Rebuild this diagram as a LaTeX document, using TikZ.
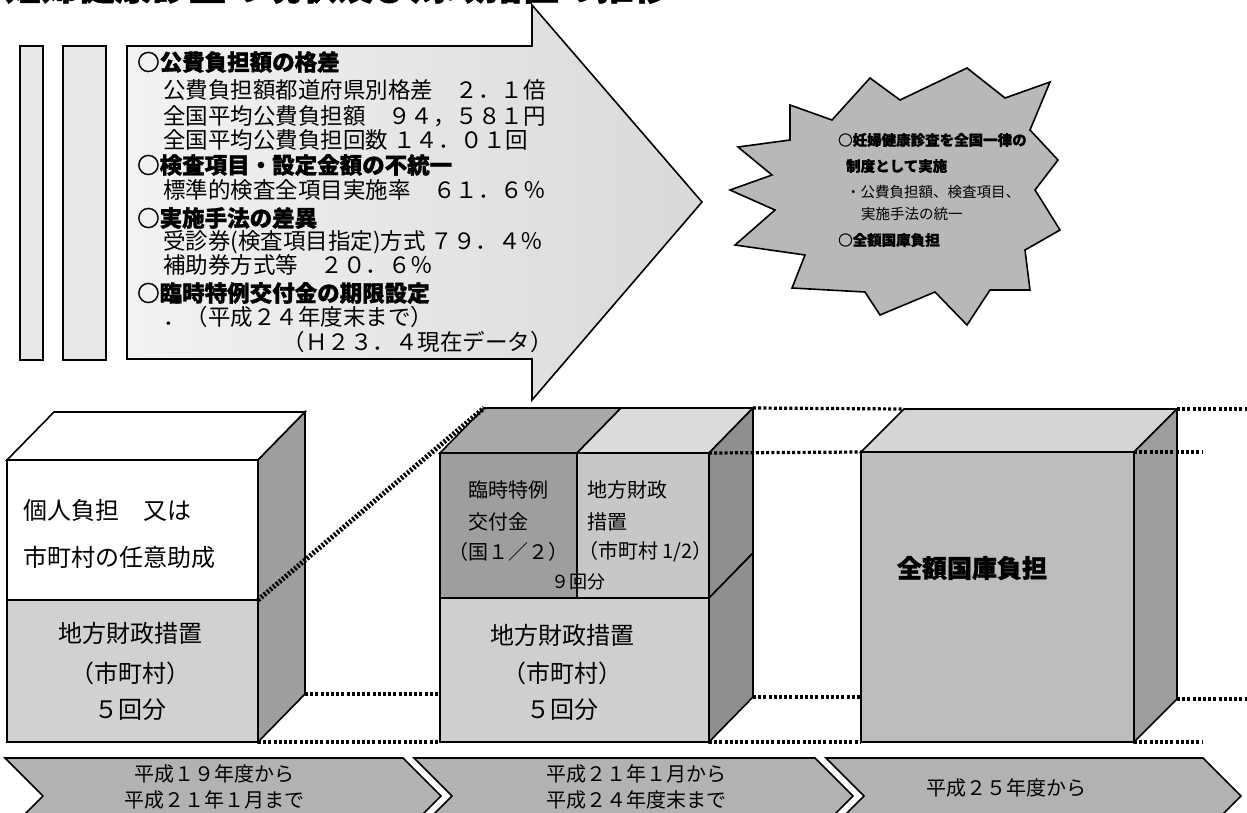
\documentclass[tikz,border=0pt]{standalone}
\usepackage{fontspec}
\setmainfont{Noto Sans CJK JP}
\newfontfamily\heavy[BoldFeatures={FakeBold=1.3}]{Noto Sans CJK JP}
\definecolor{barfill}{gray}{0.91}
\definecolor{starfill}{gray}{0.72}
\definecolor{chevfill}{gray}{0.70}
\definecolor{cwhite}{gray}{1}
\definecolor{conelow}{gray}{0.82}
\definecolor{coneside}{gray}{0.62}
\definecolor{ctwoA}{gray}{0.62}
\definecolor{ctwoB}{gray}{0.78}
\definecolor{ctwolow}{gray}{0.81}
\definecolor{ctwotopA}{gray}{0.66}
\definecolor{ctwotopB}{gray}{0.86}
\definecolor{ctwoside}{gray}{0.56}
\definecolor{cthree}{gray}{0.74}
\definecolor{cthreetop}{gray}{0.83}
\definecolor{cthreeside}{gray}{0.62}
\begin{document}
\begin{tikzpicture}[x=1pt,y=-1pt,
  face/.style={draw=black, line width=1.6pt, line join=miter},
  body/.style={font=\fontsize{22.5}{25}\selectfont, inner sep=0pt, anchor=west},
  startxt/.style={font=\fontsize{14.5}{16}\selectfont, inner sep=0pt, anchor=west},
  cubetxt/.style={font=\fontsize{24}{26}\selectfont, inner sep=0pt},
  smalltxt/.style={font=\fontsize{20}{22}\selectfont, inner sep=0pt, anchor=west},
  chevtxt/.style={font=\fontsize{20}{22}\selectfont, inner sep=0pt},
  dotl/.style={line width=3.2pt, dash pattern=on 3pt off 2.2pt},
  diagdot/.style={line width=5pt, dash pattern=on 2.2pt off 1.8pt}]
\useasboundingbox (0,0) rectangle (1247,812);

% title (cut at top)
\node[anchor=west, inner sep=0pt, font=\fontsize{37}{37}\selectfont\heavy\bfseries] (title) at (4,-14) {妊婦健康診査の現状及び財政措置の推移};

% left bars
\path[face, fill=barfill] (20,46) rectangle (43,360);
\path[face, fill=barfill] (63,46) rectangle (106,360);

% big arrow
\path[face, left color=gray!10, right color=gray!30] (127,46) -- (532,46) -- (532,5) -- (702,202) -- (532,400) -- (532,359) -- (127,359) -- cycle;

\node[body] (i1) at (137,62) {\heavy\bfseries ○公費負担額の格差};
\node[body] (i2) at (163,90) {公費負担額都道府県別格差　２．１倍};
\node[body] (i3) at (163,116) {全国平均公費負担額　９４，５８１円};
\node[body] (i4) at (163,140) {全国平均公費負担回数 １４．０１回};
\node[body] (i5) at (137,165) {\heavy\bfseries ○検査項目・設定金額の不統一};
\node[body] (i6) at (163,190) {標準的検査全項目実施率　６１．６％};
\node[body] (i7) at (137,218) {\heavy\bfseries ○実施手法の差異};
\node[body] (i8) at (163,242) {受診券(検査項目指定)方式 ７９．４％};
\node[body] (i9) at (163,265) {補助券方式等　２０．６％};
\node[body] (i10) at (137,293) {\heavy\bfseries ○臨時特例交付金の期限設定};
\node[body] (i11) at (163,317) {．（平成２４年度末まで）};
\node[body, anchor=east] (i12) at (553,342) {（Ｈ２３．４現在データ）};

% starburst
\path[face, fill=starfill] (790,105) -- (832,120) -- (870,78) -- (900,100) -- (967,68) -- (1005,98) -- (1050,82) -- (1030,130) -- (1058,160) -- (1035,190) -- (1060,230) -- (1025,250) -- (1030,290) -- (990,290) -- (967,325) -- (935,292) -- (880,315) -- (865,292) -- (792,288) -- (805,255) -- (735,245) -- (775,210) -- (730,190) -- (772,175) -- (738,147) -- (790,140) -- cycle;
\node[startxt] (s1) at (838,140) {\heavy\bfseries ○妊婦健康診査を全国一律の};
\node[startxt] (s2) at (846,166) {\heavy\bfseries 制度として実施};
\node[startxt] (s3) at (846,192) {・公費負担額、検査項目、};
\node[startxt] (s4) at (861,214) {実施手法の統一};
\node[startxt] (s5) at (838,240) {\heavy\bfseries ○全額国庫負担};

% ---- cube 1 ----
\coordinate (a1) at (7,460);   \coordinate (a2) at (258,460);
\coordinate (a3) at (258,600); \coordinate (a4) at (258,742);
\coordinate (a5) at (7,742);   \coordinate (a6) at (7,600);
\coordinate (b1) at (54,412);  \coordinate (b2) at (305,412);
\coordinate (b4) at (305,694);
\path[face, fill=cwhite] (a1) -- (b1) -- (b2) -- (a2) -- cycle;
\path[face, fill=coneside] (a2) -- (b2) -- (b4) -- (a4) -- cycle;
\path[face, fill=cwhite] (a1) rectangle (a3);
\path[face, fill=conelow] (a6) rectangle (a4);
\node[cubetxt, anchor=west] (c1a) at (23,510) {個人負担　又は};
\node[cubetxt, anchor=west] (c1b) at (23,557) {市町村の任意助成};
\node[cubetxt] (c1c) at (130,633) {地方財政措置};
\node[cubetxt] (c1d) at (130,673) {（市町村）};
\node[cubetxt] (c1e) at (130,710) {５回分};

% ---- cube 2 ----
\coordinate (p1) at (440,453); \coordinate (pm) at (577,453); \coordinate (p2) at (709,453);
\coordinate (p3) at (709,598); \coordinate (p4) at (709,742);
\coordinate (p5) at (440,742); \coordinate (p6) at (440,598);
\coordinate (q1) at (484,408); \coordinate (qm) at (621,408); \coordinate (q2) at (753,408);
\coordinate (q3) at (753,553); \coordinate (q4) at (753,697);
\coordinate (pd) at (577,560); \coordinate (pe) at (577,590); \coordinate (pf) at (577,598);
\path[face, fill=ctwotopA] (p1) -- (q1) -- (qm) -- (pm) -- cycle;
\path[face, fill=ctwotopB] (pm) -- (qm) -- (q2) -- (p2) -- cycle;
\path[face, fill=ctwoside] (p2) -- (q2) -- (q3) -- (p3) -- cycle;
\path[face, fill=ctwoside] (p3) -- (q3) -- (q4) -- (p4) -- cycle;
\path[face, fill=ctwoA] (p1) rectangle (pf);
\path[face, fill=ctwoB] (pm) rectangle (p3);
\path[fill=ctwoA] (pd) ++(-1,0) rectangle ++(-110,30);
\path[fill=ctwoB] (pd) ++(1,0) rectangle (707,597);
\path[face, fill=ctwolow] (p6) rectangle (p4);
\draw[line width=1.6pt] (pm) -- (pd);
\draw[line width=1.6pt] (pe) -- (pf);
\draw[line width=1.6pt] (p1) -- (p6);
\node[smalltxt] (c2a) at (468,490) {臨時特例};
\node[smalltxt] (c2b) at (468,522) {交付金};
\node[smalltxt] (c2c) at (448,552) {（国１／２）};
\node[smalltxt] (c2d) at (587,490) {地方財政};
\node[smalltxt] (c2e) at (587,522) {措置};
\node[smalltxt] (c2f) at (578,552) {（市町村 1/2）};
\node[font=\fontsize{18}{20}\selectfont, inner sep=0pt] (c2g) at (578,582) {９回分};
\node[cubetxt] (c2h) at (562,635) {地方財政措置};
\node[cubetxt] (c2i) at (562,673) {（市町村）};
\node[cubetxt] (c2j) at (562,710) {５回分};

% ---- cube 3 ----
\coordinate (r1) at (861,452); \coordinate (r2) at (1134,452);
\coordinate (r3) at (1134,742); \coordinate (r4) at (861,742);
\coordinate (t1) at (904,409); \coordinate (t2) at (1177,409);
\coordinate (t3) at (1177,699); \coordinate (r5) at (861,697);
\path[face, fill=cthreetop] (r1) -- (t1) -- (t2) -- (r2) -- cycle;
\path[face, fill=cthreeside] (r2) -- (t2) -- (t3) -- (r3) -- cycle;
\path[face, fill=cthree] (r1) rectangle (r3);
\node[cubetxt, font=\fontsize{25}{27}\selectfont\heavy\bfseries] (c3) at (972,568) {全額国庫負担};

% ---- dotted guide lines ----
\coordinate (e1) at (440,694); \coordinate (e2) at (440,742);
\coordinate (x1) at (1247,409); \coordinate (x2) at (1202,452);
\coordinate (x3) at (1247,699); \coordinate (x4) at (1202,742);
\draw[diagdot] (a3) -- (q1);
\draw[dotl] (b4) -- (e1);
\draw[dotl] (a4) -- (e2);
\draw[dotl] (q2) -- (t1);
\draw[dotl] (p2) -- (r1);
\draw[dotl] (q4) -- (r5);
\draw[dotl] (p4) -- (r4);
\draw[dotl] (t2) -- (x1);
\draw[dotl] (r2) -- (x2);
\draw[dotl] (t3) -- (x3);
\draw[dotl] (r3) -- (x4);

% ---- chevrons ----
\path[face, fill=chevfill] (5,758) -- (403,758) -- (441,796) -- (403,834) -- (5,834) -- (43,796) -- cycle;
\path[face, fill=chevfill] (414,758) -- (815,758) -- (853,796) -- (815,834) -- (414,834) -- (452,796) -- cycle;
\path[face, fill=chevfill] (826,758) -- (1203,758) -- (1241,796) -- (1203,834) -- (826,834) -- (864,796) -- cycle;
\node[chevtxt] (h1) at (214,774) {平成１９年度から};
\node[chevtxt] (h2) at (214,800) {平成２１年１月まで};
\node[chevtxt] (h3) at (636,774) {平成２１年１月から};
\node[chevtxt] (h4) at (636,800) {平成２４年度末まで};
\node[chevtxt] (h5) at (1006,788) {平成２５年度から};
\end{tikzpicture}
\end{document}
